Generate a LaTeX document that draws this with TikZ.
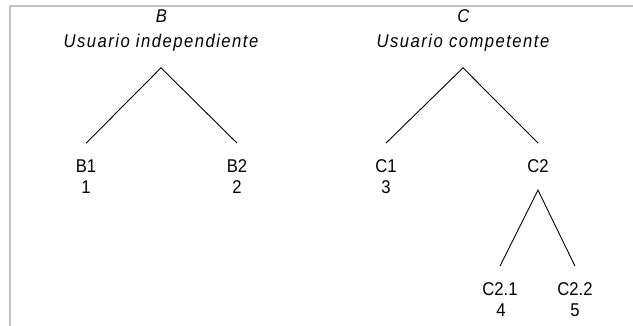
\documentclass[tikz,border=0pt]{standalone}
\usepackage{fontspec}
\setmainfont{Liberation Sans}[FakeStretch=0.9]
\newfontfamily\titlefam{Liberation Sans}[FakeStretch=0.9, LetterSpace=8]
\definecolor{framegray}{HTML}{C4C4C4}
\tikzset{
  lbl/.style={font=\fontsize{18.5}{22}\selectfont, inner sep=0pt, outer xsep=0pt, outer ysep=17pt, anchor=base},
  ttl/.style={font=\titlefam\itshape\fontsize{18.5}{22}\selectfont, inner sep=0pt, outer xsep=0pt, outer ysep=16pt, anchor=base},
  edge/.style={draw=black, line width=0.9pt},
  frameline/.style={draw=framegray, line width=2pt}
}
\begin{document}
\begin{tikzpicture}[x=1pt,y=-1pt]
\useasboundingbox (0,0) rectangle (633,326);
% frame
\draw[frameline] (633,6) -- (10,6) -- (10,326);
% titles
\node[ttl] (tB) at (161.5,23) {B};
\node[ttl] (tBname) at (161,48) {Usuario independiente};
\node[ttl] (tC) at (463.5,23) {C};
\node[ttl] (tCname) at (463,48) {Usuario competente};
% labels
\node[lbl] (b1) at (86,173) {B1};
\node[lbl] (n1) at (86,194) {1};
\node[lbl] (b2) at (237,173) {B2};
\node[lbl] (n2) at (237,194) {2};
\node[lbl] (c1) at (386,173) {C1};
\node[lbl] (n3) at (386,194) {3};
\node[lbl] (c2) at (538,173) {C2};
\node[lbl] (c21) at (500,296) {C2.1};
\node[lbl] (n4) at (501,317) {4};
\node[lbl] (c22) at (575,296) {C2.2};
\node[lbl] (n5) at (575,317) {5};
% connectors
\draw[edge] (b1.north) -- (tBname.south) -- (b2.north);
\draw[edge] (c1.north) -- (tCname.south) -- (c2.north);
\draw[edge] (c21.north) -- (c2.south) -- (c22.north);
\end{tikzpicture}
\end{document}
